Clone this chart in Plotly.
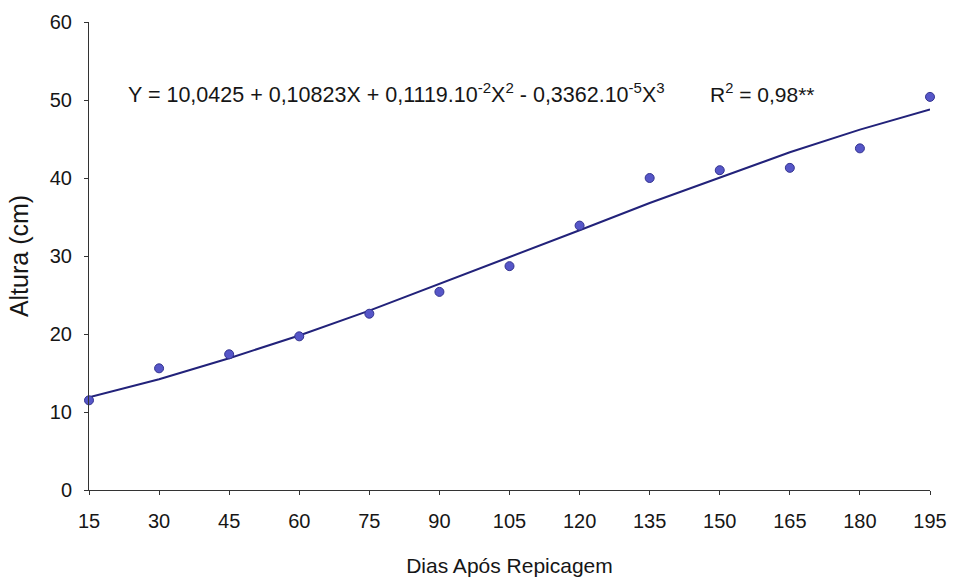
import plotly.graph_objects as go

# Days after transplanting and measured plant height
dias = [15, 30, 45, 60, 75, 90, 105, 120, 135, 150, 165, 180, 195]
altura = [11.5, 15.6, 17.4, 19.7, 22.6, 25.4, 28.7, 33.9, 40.0, 41.0, 41.3, 43.8, 50.4]

# Fitted cubic regression values at each sampling day
ajuste = [11.9, 14.2, 16.9, 19.8, 23.0, 26.4, 29.9, 33.3, 36.8, 40.1, 43.3, 46.2, 48.8]

x_ticks = dias
y_ticks = [0, 10, 20, 30, 40, 50, 60]

equacao = ("Y = 10,0425 + 0,10823X + 0,1119.10<sup>-2</sup>X<sup>2</sup>"
           " - 0,3362.10<sup>-5</sup>X<sup>3</sup>")
r2 = "R<sup>2</sup> = 0,98**"

FONT = "Liberation Sans, Arial, sans-serif"
TXT = "#161616"

fig = go.Figure()

fig.add_trace(go.Scatter(
    x=dias, y=ajuste, mode="lines",
    line=dict(color="#22227a", width=2),
    hoverinfo="skip", cliponaxis=False,
))

fig.add_trace(go.Scatter(
    x=dias, y=altura, mode="markers",
    marker=dict(size=9, color="#5656c8", line=dict(color="#33338f", width=1)),
    cliponaxis=False,
))

fig.add_annotation(
    text=equacao, xref="paper", yref="y",
    x=(126 - 89) / 841, y=50.9, xanchor="left", yanchor="middle",
    showarrow=False, font=dict(family=FONT, size=21.5, color=TXT),
)
fig.add_annotation(
    text=r2, xref="paper", yref="y",
    x=(708 - 89) / 841, y=50.9, xanchor="left", yanchor="middle",
    showarrow=False, font=dict(family=FONT, size=21, color=TXT),
)

fig.update_layout(
    width=953, height=578,
    margin=dict(l=89, r=23, t=22, b=88),
    paper_bgcolor="white", plot_bgcolor="white",
    showlegend=False,
    font=dict(family=FONT, size=20, color=TXT),
    xaxis=dict(
        range=[15, 195], tickvals=x_ticks, ticktext=[str(v) for v in x_ticks],
        showgrid=False, zeroline=False, automargin=False,
        showline=True, linecolor="#333333", linewidth=1,
        ticks="outside", ticklen=4, tickcolor="#333333",
        ticklabelstandoff=9,
        tickfont=dict(size=20),
        title=dict(text="Dias Após Repicagem", font=dict(size=21), standoff=27),
    ),
    yaxis=dict(
        range=[0, 60], tickvals=y_ticks, ticktext=[str(v) for v in y_ticks],
        showgrid=False, zeroline=False, automargin=False,
        showline=True, linecolor="#333333", linewidth=1,
        ticks="outside", ticklen=4, tickcolor="#333333",
        ticklabelstandoff=8,
        tickfont=dict(size=20),
        title=dict(text="Altura (cm)", font=dict(size=25), standoff=14),
    ),
)

fig.write_html("out.html")
